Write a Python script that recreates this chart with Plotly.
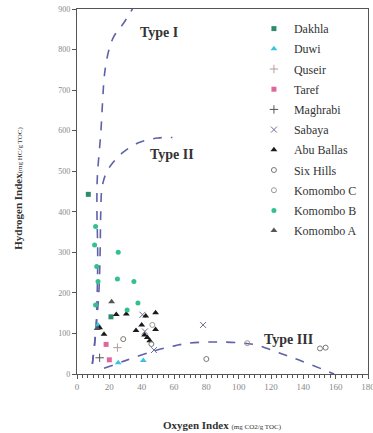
import plotly.graph_objects as go

# ---- data ----
dakhla_x = [7, 21]
dakhla_y = [443, 141]
duwi_x = [13, 12.5, 25.5, 41]
duwi_y = [121, 113, 28, 33]
quseir_x = [25]
quseir_y = [65]
taref_x = [18, 20]
taref_y = [73, 35]
maghrabi_x = [14]
maghrabi_y = [40]
sabaya_x = [40.5, 42, 47.6, 78]
sabaya_y = [146, 105, 59, 121]
abuballas_x = [16.7, 14, 24.3, 30.5, 42.5, 48.6, 40, 48.6, 36.5, 41.8, 43.5, 45]
abuballas_y = [98, 114, 147, 148, 143, 151, 121, 110, 107, 96, 90, 82]
sixhills_x = [28.6, 46, 80, 150.3, 153.8]
sixhills_y = [86, 74, 37, 63, 65]
komomboC_x = [46.6, 105.3]
komomboC_y = [121, 76]
komomboB_x = [11.5, 10.9, 12.2, 13, 11.5, 25.5, 25, 35.2, 37.7, 31]
komomboB_y = [364, 318, 265, 228, 170, 300, 234, 228, 175, 158]
komomboA_x = [21.4, 12.5]
komomboA_y = [178, 112]

type1_x = [9.5, 11.5, 12.5, 12.8, 12.3, 12.6, 14.7, 16.7, 17.7, 19.8, 22.9, 29, 35]
type1_y = [25, 100, 200, 300, 413, 487, 594, 726, 759, 800, 833, 866, 905]
type2_x = [9.5, 11.5, 13.5, 14.3, 14.7, 15.5, 18, 22, 28, 38, 50, 59]
type2_y = [25, 100, 200, 300, 400, 460, 495, 520, 545, 570, 582, 583]
type3_x = [16.7, 30, 48.7, 61, 69, 85, 100, 110.5, 123, 137, 156, 159]
type3_y = [14, 33, 58, 70, 76, 79, 77, 72, 55, 35, 5, 0]

type_labels = ["Type I", "Type II", "Type III"]
type_label_x = [51, 59, 131]
type_label_y = [842, 541, 86]

SERIF = "Liberation Serif"
LINE_COLOR = "#5f62a8"

fig = go.Figure()

for tx, ty in [(type1_x, type1_y), (type2_x, type2_y), (type3_x, type3_y)]:
    fig.add_trace(go.Scatter(x=tx, y=ty, mode="lines", showlegend=False,
                             line=dict(color=LINE_COLOR, width=1.6, dash="dash", shape="spline"),
                             hoverinfo="skip"))

series = [
    ("Dakhla", dakhla_x, dakhla_y, "square", "#2e8b6e", 5, None),
    ("Duwi", duwi_x, duwi_y, "triangle-up", "#3cc3e0", 6, None),
    ("Quseir", quseir_x, quseir_y, "cross-thin", "#b89a9a", 6, 1),
    ("Taref", taref_x, taref_y, "square", "#e0679b", 5, None),
    ("Maghrabi", maghrabi_x, maghrabi_y, "cross-thin", "#555555", 6, 1),
    ("Sabaya", sabaya_x, sabaya_y, "x-thin", "#6d6d9a", 6, 1),
    ("Abu Ballas", abuballas_x, abuballas_y, "triangle-up", "#1a1a1a", 6, None),
    ("Six Hills", sixhills_x, sixhills_y, "circle-open", "#777777", 5, None),
    ("Komombo C", komomboC_x, komomboC_y, "circle-open", "#999999", 5, None),
    ("Komombo B", komomboB_x, komomboB_y, "circle", "#33c08e", 5, None),
    ("Komombo A", komomboA_x, komomboA_y, "triangle-up", "#555555", 6, None),
]
for name, xs, ys, sym, col, size, lw in series:
    marker = dict(symbol=sym, color=col, size=size)
    if lw is not None or sym.endswith("open"):
        marker["line"] = dict(color=col, width=1)
    fig.add_trace(go.Scatter(x=xs, y=ys, mode="markers", name=name, legendgroup=name,
                             marker=marker))

for t, lx, ly in zip(type_labels, type_label_x, type_label_y):
    fig.add_annotation(x=lx, y=ly, text="<b>" + t + "</b>", showarrow=False,
                       font=dict(family=SERIF, size=14, color="#333333"))

fig.add_annotation(xref="paper", yref="paper", x=0.5, y=-0.14, showarrow=False,
                   text="<b>Oxygen Index</b> <span style='font-size:7px'>(mg CO2/g TOC)</span>",
                   font=dict(family=SERIF, size=11, color="#333333"), yanchor="middle")
fig.add_annotation(xref="paper", yref="paper", x=-0.203, y=0.51, showarrow=False, textangle=-90,
                   text="<b>Hydrogen Index</b><span style='font-size:7px'>(mg HC/g TOC)</span>",
                   font=dict(family=SERIF, size=11, color="#333333"), xanchor="center")

fig.update_layout(
    width=373, height=433,
    margin=dict(l=77, r=5, t=9, b=59, autoexpand=False),
    paper_bgcolor="white", plot_bgcolor="white",
    font=dict(family=SERIF, color="#444444"),
    legend=dict(x=0.608, y=0.986, xanchor="left", yanchor="top",
                font=dict(family=SERIF, size=12, color="#333333"),
                bgcolor="rgba(0,0,0,0)", itemwidth=30, tracegroupgap=1.2),
    xaxis=dict(range=[0, 180], tickvals=list(range(0, 181, 20)), showgrid=False, zeroline=False,
               showline=True, linecolor="#555555", linewidth=1.2, mirror=True,
               ticks="outside", ticklen=4, tickcolor="#555555", ticklabeloverflow="allow",
               minor=dict(dtick=10 / 3, ticks="outside", ticklen=3, tickcolor="#555555"),
               tickfont=dict(family=SERIF, size=9, color="#888888")),
    yaxis=dict(range=[0, 900], tickvals=list(range(0, 901, 100)), showgrid=False, zeroline=False,
               showline=True, linecolor="#555555", linewidth=1.2, mirror=True,
               ticks="outside", ticklen=4, tickcolor="#555555", ticklabeloverflow="allow",
               tickfont=dict(family=SERIF, size=8, color="#888888")),
)

fig.write_html("out.html", config={"displayModeBar": False},
               post_script="document.body.style.margin='0';")
